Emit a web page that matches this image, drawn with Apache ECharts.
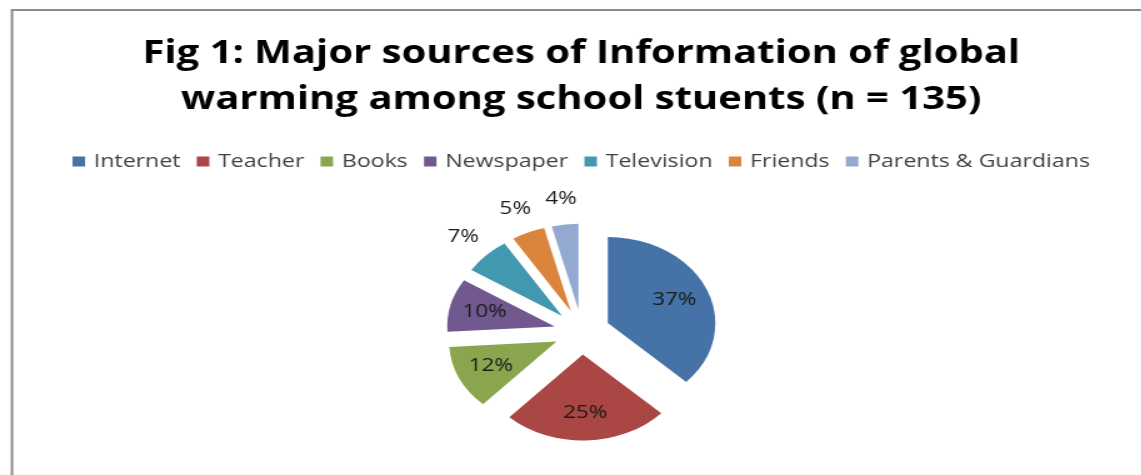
<!DOCTYPE html>
<html>
<head>
<meta charset="utf-8">
<script src="https://cdn.jsdelivr.net/npm/echarts@6/dist/echarts.min.js"></script>
<style>
  html, body { margin: 0; padding: 0; background: #fff; overflow: hidden; }
  /* the source picture is stretched sideways, so the whole chart is too */
  #chart { width: 930px; height: 475px; transform: scaleX(1.25); transform-origin: 0 0; }
</style>
</head>
<body>
<div id="chart"></div>
<script>
// data
const titleLines = ['Fig 1: Major sources of Information of global', 'warming among school stuents (n = 135)'];
const categories = ['Internet', 'Teacher', 'Books', 'Newspaper', 'Television', 'Friends', 'Parents & Guardians'];
const shares = [37, 25, 12, 10, 7, 5, 4];
const sliceColors = ['#4572A7', '#AA4643', '#89A54E', '#71588F', '#4198AF', '#DB843D', '#93A9CF'];
// slices whose label sits outside the pie
const outsideLabelled = ['Television', 'Friends', 'Parents & Guardians'];

const chart = echarts.init(document.getElementById('chart'));

const pieCenter = [465.6, 332];
const explode = 22.5;
const labelFont = { fontFamily: 'Open Sans', fontSize: 18, color: '#1a1a1a' };

// data for one series, labels only where wanted
const pieData = (wantLabel) => categories.map((name, i) => ({
  name: name,
  value: shares[i],
  selected: true,
  label: { show: wantLabel(name) }
}));

// invisible copies of the pie, only used to place the percentage labels
const labelSeries = (radius, wantLabel) => ({
  type: 'pie',
  center: pieCenter,
  radius: radius,
  silent: true,
  selectedMode: 'multiple',
  selectedOffset: explode,
  avoidLabelOverlap: false,
  itemStyle: { color: 'rgba(0,0,0,0)', borderWidth: 0 },
  label: Object.assign({ position: 'inside', formatter: '{d}%' }, labelFont),
  labelLine: { show: false },
  emphasis: { disabled: true },
  data: pieData(wantLabel)
});

const option = {
  animation: false,
  color: sliceColors,
  title: {
    text: titleLines.join('\n'),
    left: 'center',
    top: 26,
    textStyle: { fontFamily: 'Open Sans', fontWeight: 'bold', fontSize: 32, lineHeight: 46, color: '#000' }
  },
  legend: {
    data: categories,
    left: 'center',
    top: 147,
    icon: 'rect',
    itemWidth: 10,
    itemHeight: 10,
    itemGap: 13,
    selectedMode: false,
    textStyle: { fontFamily: 'Open Sans', fontSize: 18.5, color: '#404040', padding: [0, 0, 0, 2] }
  },
  graphic: [{
    type: 'rect',
    shape: { x: 9.6, y: 10, width: 1100, height: 600 },
    style: { fill: 'none', stroke: '#8c8c8c', lineWidth: 2 },
    silent: true
  }],
  series: [
    {
      type: 'pie',
      center: pieCenter,
      radius: 86,
      startAngle: 90,
      selectedMode: 'multiple',
      selectedOffset: explode,
      itemStyle: { borderWidth: 0 },
      label: { show: false },
      labelLine: { show: false },
      emphasis: { disabled: true },
      data: pieData(() => false)
    },
    labelSeries([0, 110], (n) => outsideLabelled.indexOf(n) < 0),
    labelSeries([94, 124], (n) => outsideLabelled.indexOf(n) >= 0)
  ]
};

chart.setOption(option);
</script>
</body>
</html>
